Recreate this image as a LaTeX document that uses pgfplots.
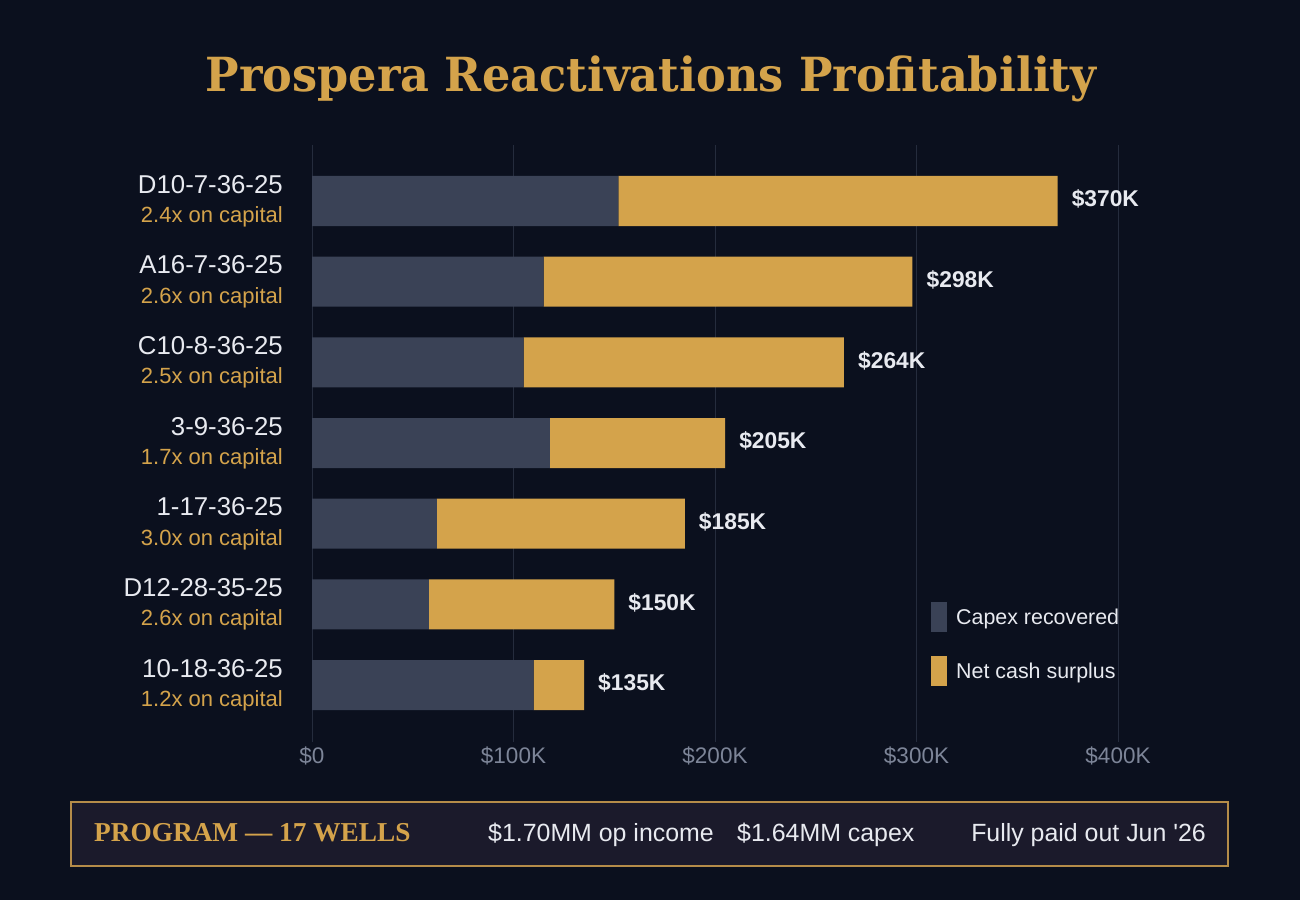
\documentclass[border=0pt]{standalone}
\usepackage{pgfplots}
\pgfplotsset{compat=1.18}
\usepackage{fontspec}
\setmainfont{Liberation Sans}
\newfontfamily\titlefont{DejaVu Serif}[FakeStretch=0.949]
\newfontfamily\boxserif{Liberation Serif}
\definecolor{bg}{HTML}{0B101E}
\definecolor{gold}{HTML}{D4A34B}
\definecolor{capex}{HTML}{3A4256}
\definecolor{gridc}{HTML}{252C3D}
\definecolor{tickc}{HTML}{7D8598}
\definecolor{whitec}{HTML}{E8EAF0}
\definecolor{boxfill}{HTML}{1B1A2B}
\definecolor{boxborder}{HTML}{B58C49}
\pgfplotsset{common/.style={
  at={(312pt,-742pt)}, anchor=south west,
  width=806pt, height=597pt, scale only axis,
  xmin=0, xmax=400, ymin=-0.694, ymax=6.706, y dir=reverse, clip=false}}
\newcommand{\sub}[1]{{\color{gold}\fontsize{22}{29.3}\selectfont #1}}
\begin{document}
\begin{tikzpicture}[x=1pt,y=1pt]
\fill[bg] (0pt,0pt) rectangle (1300pt,-900pt);
\node[anchor=base, inner sep=0pt, font=\titlefont\bfseries\fontsize{47}{56}\selectfont, text=gold] at (651pt,-91.7pt) {Prospera Reactivations Profitability};
\begin{axis}[common,
  xbar stacked, bar width=0.62,
  axis line style={draw=none},
  major tick length=0pt,
  xmajorgrids, ymajorgrids=false,
  grid style={color=gridc, line width=1pt},
  xtick={0,100,200,300,400},
  xticklabels={\$0,\$100K,\$200K,\$300K,\$400K},
  xticklabel style={anchor=base, inner sep=0pt, yshift=-21.5pt, text=tickc, font=\fontsize{22.5}{27}\selectfont},
  ytick={0,1,2,3,4,5,6},
  yticklabels={
    {D10-7-36-25\\\sub{2.4x on capital}},
    {A16-7-36-25\\\sub{2.6x on capital}},
    {C10-8-36-25\\\sub{2.5x on capital}},
    {3-9-36-25\\\sub{1.7x on capital}},
    {1-17-36-25\\\sub{3.0x on capital}},
    {D12-28-35-25\\\sub{2.6x on capital}},
    {10-18-36-25\\\sub{1.2x on capital}}},
  yticklabel style={anchor=east, inner sep=0pt, xshift=-29pt, align=right, text=whitec, font=\fontsize{25.8}{29.3}\selectfont},
  legend cell align=left,
  legend style={at={(axis cs:307.2,4.97)}, anchor=north west, draw=none, fill=none,
    inner sep=0pt, row sep=24pt, column sep=9pt, text=whitec,
    font=\fontsize{21.4}{25}\selectfont, nodes={inner sep=0pt}},
  legend image code/.code={\fill[#1] (0pt,-15pt) rectangle (16pt,15pt);},
]
\addplot[fill=capex, draw=none] coordinates {(152,0) (115,1) (105,2) (118,3) (62,4) (58,5) (110,6)};
\addlegendentry{Capex recovered}
\addplot[fill=gold, draw=none] coordinates {(218,0) (183,1) (159,2) (87,3) (123,4) (92,5) (25,6)};
\addlegendentry{Net cash surplus}
\end{axis}
\begin{axis}[common, hide axis]
\addplot[draw=none, mark=none, nodes near coords, point meta=explicit symbolic,
  nodes near coords style={anchor=base west, inner sep=0pt, xshift=14pt, yshift=-5.7pt, text=whitec, font=\bfseries\fontsize{22.8}{27}\selectfont}]
  coordinates {(370,0) [\$370K] (298,1) [\$298K] (264,2) [\$264K] (205,3) [\$205K] (185,4) [\$185K] (150,5) [\$150K] (135,6) [\$135K]};
\end{axis}
\draw[boxborder, fill=boxfill, line width=1.5pt] (71pt,-802pt) rectangle (1228pt,-866pt);
\node[anchor=base west, inner sep=0pt, font=\boxserif\bfseries\fontsize{27.3}{32}\selectfont, text=gold] at (94pt,-841pt) {PROGRAM — 17 WELLS};
\node[anchor=base west, inner sep=0pt, font=\fontsize{24.9}{30}\selectfont, text=whitec] at (488pt,-841pt) {\$1.70MM op income};
\node[anchor=base west, inner sep=0pt, font=\fontsize{24.9}{30}\selectfont, text=whitec] at (737pt,-841pt) {\$1.64MM capex};
\node[anchor=base east, inner sep=0pt, font=\fontsize{24.9}{30}\selectfont, text=whitec] at (1206pt,-841pt) {Fully paid out Jun \textquotesingle 26};
\end{tikzpicture}
\end{document}
